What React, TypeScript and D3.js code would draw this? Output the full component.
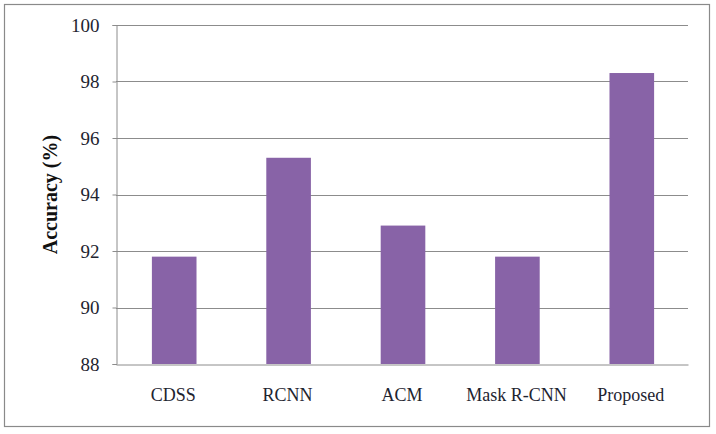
import React, { useEffect, useRef } from "react";
import * as d3 from "d3";

const categories = ["CDSS", "RCNN", "ACM", "Mask R-CNN", "Proposed"];
const accuracy = [91.8, 95.3, 92.9, 91.8, 98.3];
const yTicks = [88, 90, 92, 94, 96, 98, 100];

const App = () => {
  const svgRef = useRef<SVGSVGElement>(null);

  useEffect(() => {
    const width = 716;
    const height = 434;
    const margin = { top: 25, right: 28, bottom: 70, left: 116 };
    const font = "'Liberation Serif', serif";

    const svg = d3.select(svgRef.current);
    svg.selectAll("*").remove();

    // outer frame
    svg.append("rect")
      .attr("x", 4.5)
      .attr("y", 4.5)
      .attr("width", 705)
      .attr("height", 422)
      .attr("fill", "#fff")
      .attr("stroke", "#8a8a8a")
      .attr("stroke-width", 1.2);

    const x = d3.scaleBand()
      .domain(categories)
      .range([margin.left, width - margin.right])
      .padding(0);

    const y = d3.scaleLinear()
      .domain([88, 100])
      .range([height - margin.bottom, margin.top]);

    // gridlines
    svg.append("g")
      .selectAll("line")
      .data(yTicks.filter((t) => t !== 88))
      .enter()
      .append("line")
      .attr("x1", margin.left)
      .attr("x2", width - margin.right)
      .attr("y1", (d) => Math.round(y(d)) + 0.5)
      .attr("y2", (d) => Math.round(y(d)) + 0.5)
      .attr("stroke", "#8c8c8c")
      .attr("stroke-width", 1);

    // bars
    const barW = x.step() * 0.39;
    svg.append("g")
      .selectAll("rect")
      .data(categories)
      .enter()
      .append("rect")
      .attr("x", (d) => x(d)! + (x.step() - barW) / 2 + 1)
      .attr("width", barW)
      .attr("y", (d, i) => y(accuracy[i]))
      .attr("height", (d, i) => y(88) - y(accuracy[i]))
      .attr("fill", "#8863a7");

    // y axis
    const yAxis = svg.append("g")
      .attr("transform", `translate(${margin.left + 0.5},0)`)
      .call(d3.axisLeft(y).tickValues(yTicks).tickSize(4).tickPadding(13).tickFormat(d3.format("d")));
    yAxis.select(".domain").attr("stroke", "#8c8c8c");
    yAxis.selectAll(".tick line").attr("stroke", "#8c8c8c");
    yAxis.selectAll("text")
      .attr("font-family", font)
      .attr("font-size", 19)
      .attr("fill", "#1e2430");

    // x axis
    const xAxis = svg.append("g")
      .attr("transform", `translate(0,${Math.round(y(88)) + 0.5})`)
      .call(d3.axisBottom(x).tickSize(0).tickPadding(24));
    xAxis.select(".domain").attr("stroke", "#8c8c8c");
    xAxis.selectAll("text")
      .attr("font-family", font)
      .attr("font-size", 18)
      .attr("fill", "#1e2430");

    // y label
    svg.append("text")
      .attr("transform", `translate(57,${(y(88) + y(100)) / 2}) rotate(-90)`)
      .attr("text-anchor", "middle")
      .attr("font-family", font)
      .attr("font-weight", "bold")
      .attr("font-size", 20)
      .attr("fill", "#111")
      .text("Accuracy (%)");
  }, []);

  return (
    <svg
      ref={svgRef}
      width={716}
      height={434}
      style={{ position: "absolute", left: 0, top: 0, background: "#fff" }}
    />
  );
};

export default App;
